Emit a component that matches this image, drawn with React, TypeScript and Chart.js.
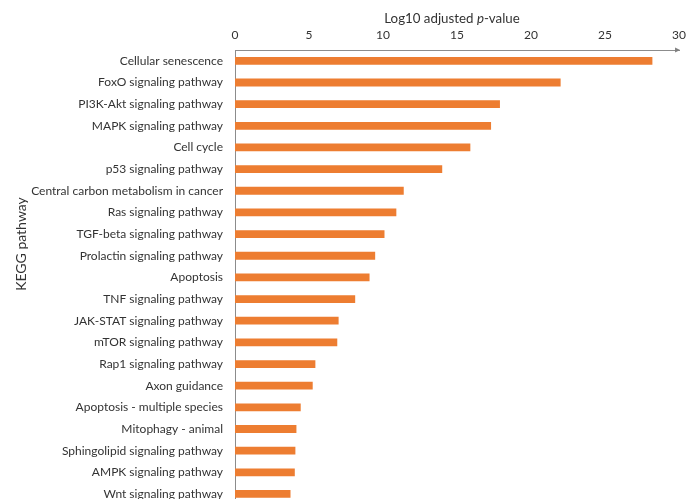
import React, { useEffect, useRef } from "react";
import { Chart, registerables } from "chart.js";

Chart.register(...registerables);

const categories: string[] = [
  "Cellular senescence",
  "FoxO signaling pathway",
  "PI3K-Akt signaling pathway",
  "MAPK signaling pathway",
  "Cell cycle",
  "p53 signaling pathway",
  "Central carbon metabolism in cancer",
  "Ras signaling pathway",
  "TGF-beta signaling pathway",
  "Prolactin signaling pathway",
  "Apoptosis",
  "TNF signaling pathway",
  "JAK-STAT signaling pathway",
  "mTOR signaling pathway",
  "Rap1 signaling pathway",
  "Axon guidance",
  "Apoptosis - multiple species",
  "Mitophagy - animal",
  "Sphingolipid signaling pathway",
  "AMPK signaling pathway",
  "Wnt signaling pathway",
];

const log10AdjP: number[] = [
  28.2, 22.0, 17.9, 17.3, 15.9, 14.0, 11.4, 10.9, 10.1, 9.47, 9.09, 8.12,
  7.0, 6.91, 5.43, 5.25, 4.44, 4.15, 4.08, 4.04, 3.75,
];

const xTicks: number[] = [0, 5, 10, 15, 20, 25, 30];

const FONT = "Lato, 'Open Sans', sans-serif";
const TEXT = "#333333";

const decorPlugin = {
  id: "decor",
  afterDraw(chart: any) {
    const { ctx, chartArea } = chart;
    ctx.save();
    const y = chartArea.top;
    const xr = chartArea.right;
    ctx.fillStyle = "#7f7f7f";
    ctx.beginPath();
    ctx.moveTo(xr + 1, y);
    ctx.lineTo(xr - 4, y - 2.5);
    ctx.lineTo(xr - 4, y + 2.5);
    ctx.closePath();
    ctx.fill();

    const parts = [
      { t: "Log10 adjusted ", f: `13.3px ${FONT}` },
      { t: "p", f: `italic 13.3px ${FONT}` },
      { t: "-value", f: `13.3px ${FONT}` },
    ];
    let total = 0;
    for (const p of parts) {
      ctx.font = p.f;
      total += ctx.measureText(p.t).width;
    }
    const cx = (chartArea.left + chartArea.right) / 2 - 5;
    let x = cx - total / 2;
    ctx.fillStyle = TEXT;
    ctx.textBaseline = "middle";
    ctx.textAlign = "left";
    for (const p of parts) {
      ctx.font = p.f;
      ctx.fillText(p.t, x, 19);
      x += ctx.measureText(p.t).width;
    }

    ctx.translate(21, 244);
    ctx.rotate(-Math.PI / 2);
    ctx.font = `14px ${FONT}`;
    ctx.textAlign = "center";
    ctx.textBaseline = "middle";
    ctx.fillText("KEGG pathway", 0, 0);
    ctx.restore();
  },
};

export default function App() {
  const ref = useRef<HTMLCanvasElement | null>(null);

  useEffect(() => {
    document.body.style.margin = "0";
    document.body.style.overflow = "hidden";
    const canvas = ref.current;
    if (!canvas) return;
    const chart = new Chart(canvas, {
      type: "bar",
      data: {
        labels: categories,
        datasets: [
          {
            data: log10AdjP,
            backgroundColor: "#ED7D31",
            borderWidth: 0,
            barPercentage: 0.36,
            categoryPercentage: 1,
          },
        ],
      },
      options: {
        indexAxis: "y",
        responsive: false,
        animation: false,
        layout: { padding: { left: 0, right: 6, top: 0, bottom: 5 } },
        plugins: {
          legend: { display: false },
          tooltip: { enabled: false },
        },
        scales: {
          x: {
            position: "top",
            min: 0,
            max: 30,
            afterBuildTicks: (axis: any) => {
              axis.ticks = xTicks.map((v) => ({ value: v }));
            },
            afterFit: (axis: any) => {
              axis.height = 50;
            },
            grid: { display: false, drawTicks: false },
            border: { display: true, color: "#8c8c8c", width: 1 },
            ticks: {
              color: TEXT,
              font: { family: FONT, size: 12 },
              padding: 8,
              maxRotation: 0,
            },
          },
          y: {
            afterFit: (axis: any) => {
              axis.width = 235;
            },
            grid: { display: false, drawTicks: false },
            border: { display: true, color: "#8c8c8c", width: 1 },
            ticks: {
              color: TEXT,
              font: { family: FONT, size: 12 },
              padding: 12,
              autoSkip: false,
            },
          },
        },
      },
      plugins: [decorPlugin],
    });
    return () => chart.destroy();
  }, []);

  return (
    <div style={{ width: 694, height: 499, overflow: "hidden", position: "relative" }}>
      <canvas ref={ref} width={694} height={524} style={{ display: "block" }} />
    </div>
  );
}
